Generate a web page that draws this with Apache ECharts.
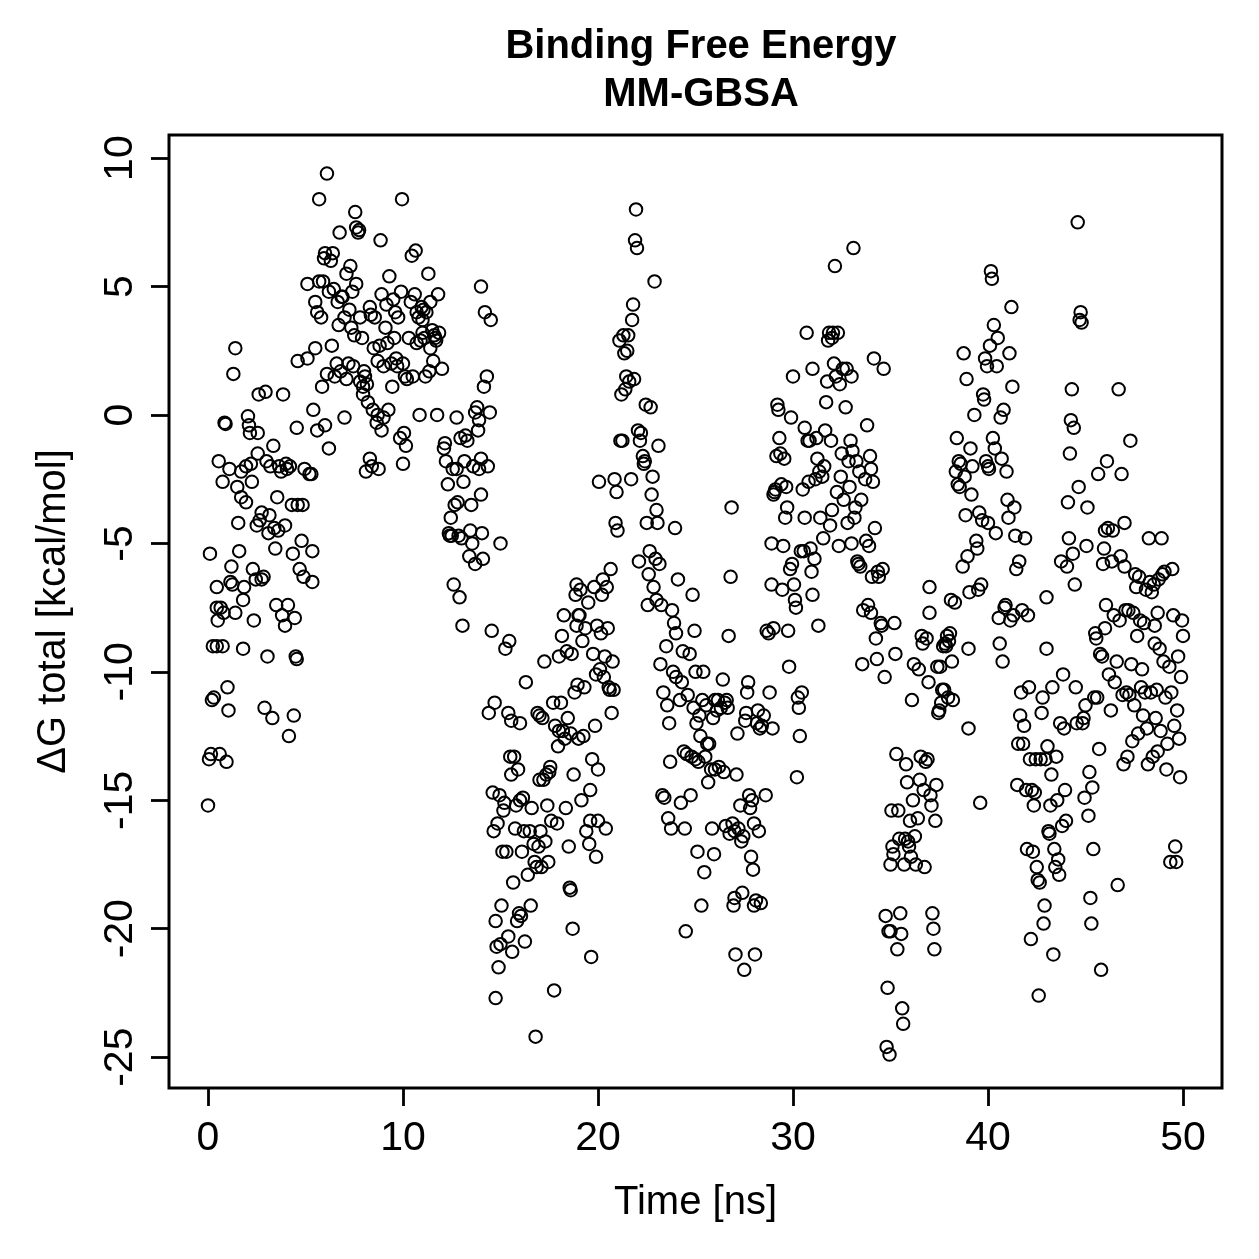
<!DOCTYPE html>
<html>
<head>
<meta charset="utf-8">
<script src="https://cdn.jsdelivr.net/npm/echarts@6/dist/echarts.min.js"></script>
<style>html,body{margin:0;padding:0;background:#fff}#c{width:1259px;height:1259px}</style>
</head>
<body>
<div id="c"></div>
<script>
// [time (ns), ΔG total (kcal/mol)], by 10-ns block
const pts0to10 = [
[0.0,-15.2],[0.05,-13.4],[0.15,-13.2],[0.1,-5.4],[0.2,-11.1],[0.3,-11.0],[0.25,-9.0],[0.45,-9.0],[0.45,-6.7],[0.5,-8.0],[0.45,-7.5],[0.55,-1.8],[0.6,-13.2],[0.65,-7.5],[0.75,-9.0],[0.75,-2.6],[0.8,-7.7],[0.85,-0.3],[0.9,-0.35],[0.95,-13.5],[1.0,-10.6],[1.05,-11.5],
[1.1,-2.1],[1.15,-6.5],[1.2,-5.9],[1.25,-6.6],[1.3,1.6],[1.4,2.6],[1.4,-7.7],[1.5,-2.8],[1.55,-4.2],[1.6,-5.3],[1.7,-2.2],[1.7,-3.2],[1.8,-7.2],[1.8,-9.1],[1.85,-6.7],[1.95,-3.4],[1.95,-2.0],
[2.05,-0.05],[2.1,-0.4],[2.15,-0.7],[2.2,-1.9],[2.25,-2.6],[2.3,-6.0],[2.35,-8.0],[2.45,-6.4],[2.5,-4.3],[2.55,-1.5],[2.55,-0.7],[2.6,0.8],[2.65,-4.1],[2.75,-3.8],[2.75,-6.4],[2.85,-6.3],[2.9,-11.4],[2.95,0.9],[3.0,-1.8],
[3.05,-9.4],[3.1,-4.6],[3.15,-3.9],[3.2,-2.0],[3.3,-11.8],[3.35,-1.2],[3.4,-4.4],[3.45,-5.2],[3.5,-7.4],[3.55,-3.2],[3.6,-4.5],[3.65,-2.0],[3.75,-2.2],[3.8,-7.8],[3.85,0.8],[3.95,-8.2],[3.95,-4.3],[4.0,-1.9],
[4.05,-2.1],[4.1,-7.4],[4.15,-12.5],[4.2,-2.0],[4.3,-3.5],[4.35,-5.4],[4.4,-11.7],[4.45,-7.9],[4.5,-9.4],[4.55,-9.5],[4.55,-0.5],[4.6,-3.5],[4.6,2.1],[4.7,-6.0],[4.8,-4.9],[4.85,-3.5],[4.9,-6.3],[4.95,-2.1],
[5.1,5.1],[5.1,2.2],[5.2,-2.3],[5.3,-2.3],[5.35,-6.5],[5.35,-5.3],[5.4,0.2],[5.5,4.4],[5.5,2.6],[5.6,4.0],[5.6,-0.6],[5.7,5.2],[5.7,8.4],[5.8,3.8],[5.85,1.1],[5.9,5.2],[5.95,6.1],[6.0,6.3],[6.0,-0.4],[6.1,9.4],[6.1,1.6],[6.2,4.8],[6.2,-1.3],[6.3,6.0],[6.35,2.7],[6.4,6.3],[6.45,4.9],
[6.5,1.5],[6.6,2.0],[6.65,4.4],[6.7,3.5],[6.75,7.1],[6.8,1.7],[6.85,4.6],[6.9,4.6],[7.0,-0.1],[7.0,3.8],[7.1,5.5],[7.1,1.4],[7.2,2.0],[7.25,4.1],[7.3,5.8],[7.35,3.4],[7.4,4.8],[7.45,1.9],[7.5,3.1],[7.55,7.9],[7.6,5.1],[7.6,7.3],[7.7,7.1],[7.75,7.2],[7.8,3.8],[7.8,1.3],[7.9,3.0],[7.95,1.1],[7.95,0.8],
[8.0,1.7],[8.05,1.5],[8.1,-2.2],[8.15,1.2],[8.2,0.5],[8.3,-1.7],[8.3,4.2],[8.35,3.9],[8.4,-2.0],[8.45,0.2],[8.5,2.6],[8.55,3.8],[8.65,-0.3],[8.7,2.1],[8.7,0.0],[8.75,-2.1],[8.8,2.7],[8.85,6.8],[8.9,4.7],[8.9,-0.6],[9.0,-0.1],[9.0,1.9],
[9.1,3.4],[9.15,4.3],[9.2,2.8],[9.25,0.2],[9.3,5.4],[9.4,2.0],[9.45,1.1],[9.5,4.5],[9.55,3.0],[9.6,4.0],[9.65,2.2],[9.7,1.9],[9.75,3.8],[9.85,-0.9],[9.9,4.8],[9.95,8.4],[10.0,2.0],[10.0,-1.9]
];
const pts10to20 = [
[10.05,-0.7],[10.1,1.5],[10.15,-1.2],[10.2,1.4],[10.3,3.0],[10.4,4.4],[10.45,6.2],[10.5,1.5],[10.6,4.7],[10.65,6.4],[10.7,4.0],[10.7,2.8],[10.8,3.8],[10.85,0.0],[10.9,2.9],[10.95,4.2],[11.0,3.7],[11.0,3.2],
[11.05,4.1],[11.1,3.0],[11.15,1.5],[11.2,4.0],[11.3,5.5],[11.35,1.7],[11.4,2.6],[11.5,3.3],[11.55,2.1],[11.6,3.1],[11.65,3.0],[11.7,2.9],[11.75,0.0],[11.85,3.2],[12.0,1.8],[11.8,4.7],[11.4,4.4],
[12.1,-1.3],[12.15,-1.1],[12.2,-1.8],[12.3,-2.7],[12.35,-4.6],[12.4,-4.7],[12.45,-4.0],[12.5,-4.7],[12.55,-2.1],[12.6,-6.6],[12.65,-3.5],[12.75,-2.1],[12.75,-0.1],[12.8,-3.4],[12.85,-4.7],[12.9,-7.1],[12.95,-0.9],[13.0,-4.8],
[13.05,-8.2],[13.1,-2.6],[13.15,-1.8],[13.2,-0.8],[13.3,-1.0],[13.4,-5.5],[13.45,-4.5],[13.5,-3.5],[13.55,-5.0],[13.6,-2.0],[13.7,-5.8],[13.7,0.1],[13.8,0.3],[13.85,-0.6],[13.9,-0.2],[13.9,-2.1],[14.0,-3.1],[14.0,-1.7],
[14.0,5.0],[14.05,-4.6],[14.1,-5.6],[14.15,1.1],[14.2,4.0],[14.3,1.5],[14.35,-2.0],[14.4,-11.6],[14.45,0.1],[14.5,3.7],[14.55,-8.4],[14.6,-14.7],[14.65,-16.2],[14.7,-11.2],[14.75,-19.7],[14.75,-22.7],[14.8,-20.7],[14.85,-15.9],[14.9,-21.5],[14.95,-14.8],[15.0,-20.6],[15.0,-5.0],
[15.05,-19.1],[15.1,-17.0],[15.15,-15.4],[15.2,-15.1],[15.25,-9.1],[15.3,-17.0],[15.4,-11.6],[15.4,-20.3],[15.45,-8.8],[15.5,-13.3],[15.55,-11.9],[15.55,-14.0],[15.6,-20.9],[15.65,-18.2],[15.7,-13.3],[15.75,-16.1],[15.8,-15.2],[15.85,-19.7],[15.9,-13.8],[15.95,-19.4],[16.0,-15.0],[16.0,-12.0],
[16.05,-19.5],[16.1,-17.0],[16.15,-14.9],[16.2,-16.2],[16.25,-20.5],[16.3,-10.4],[16.4,-17.9],[16.5,-16.2],[16.55,-19.1],[16.6,-15.3],[16.7,-16.7],[16.75,-17.4],[16.8,-24.2],[16.85,-17.6],[16.9,-11.6],[16.95,-16.8],[17.0,-11.7],[17.0,-14.2],
[17.05,-16.2],[17.1,-17.6],[17.15,-11.8],[17.2,-14.2],[17.25,-9.6],[17.3,-16.6],[17.35,-14.0],[17.4,-15.2],[17.45,-17.4],[17.5,-13.9],[17.55,-13.7],[17.6,-15.8],[17.7,-11.2],[17.75,-22.4],[17.8,-12.1],[17.9,-15.9],[17.95,-12.9],[18.0,-12.3],[18.0,-9.4],
[18.1,-11.2],[18.15,-8.6],[18.2,-12.3],[18.25,-7.8],[18.3,-12.6],[18.35,-15.3],[18.4,-9.2],[18.45,-11.8],[18.5,-16.8],[18.55,-18.4],[18.6,-18.5],[18.6,-12.4],[18.65,-9.3],[18.7,-20.0],[18.75,-14.0],[18.8,-10.8],[18.85,-7.0],[18.9,-8.2],[18.9,-6.6],[18.95,-10.5],[19.0,-12.6],[19.0,-7.8],
[19.05,-7.8],[19.1,-6.8],[19.15,-15.0],[19.2,-8.8],[19.25,-12.5],[19.3,-10.6],[19.35,-8.3],[19.4,-16.2],[19.5,-7.3],[19.55,-16.7],[19.6,-14.6],[19.65,-21.1],[19.7,-13.4],[19.75,-9.3],[19.8,-6.7],[19.85,-12.1],[19.9,-10.1],[19.95,-8.2],[20.0,-15.8],[20.0,-13.8],[19.9,-17.2],[19.6,-15.8]
];
const pts20to30 = [
[20.05,-2.6],[20.1,-9.9],[20.15,-8.5],[20.2,-7.0],[20.25,-6.4],[20.3,-10.2],[20.35,-9.4],[20.4,-16.1],[20.45,-6.7],[20.5,-8.3],[20.55,-10.6],[20.6,-10.7],[20.65,-6.0],[20.7,-11.6],[20.75,-9.6],[20.8,-10.7],[20.85,-2.5],[20.9,-4.2],[20.95,-3.0],[21.0,-4.5],
[21.1,2.9],[21.15,-1.0],[21.2,0.8],[21.25,-1.0],[21.3,3.1],[21.35,2.4],[21.4,1.0],[21.45,1.5],[21.5,2.5],[21.55,3.1],[21.6,1.3],[21.7,-2.5],[21.75,3.7],[21.8,4.3],[21.85,1.4],[21.9,6.8],[21.95,8.0],[22.0,6.5],
[22.05,-0.6],[22.1,-5.7],[22.15,-1.0],[22.2,-0.7],[22.3,-1.6],[22.35,-1.9],[22.4,-1.8],[22.45,0.4],[22.5,-4.2],[22.55,-7.4],[22.6,-6.2],[22.65,-5.3],[22.7,0.3],[22.75,-3.1],[22.8,-2.4],[22.85,-6.7],[22.9,5.2],[22.95,-5.6],[23.0,-7.2],[23.0,-3.7],
[23.05,-4.2],[23.1,-1.2],[23.15,-5.8],[23.2,-9.7],[23.25,-7.4],[23.3,-14.8],[23.35,-10.8],[23.4,-14.9],[23.5,-9.0],[23.55,-11.3],[23.6,-15.7],[23.65,-12.0],[23.7,-13.5],[23.75,-16.1],[23.8,-7.6],[23.85,-10.0],[23.9,-8.1],[23.95,-4.4],[24.0,-10.2],[24.0,-8.5],
[24.1,-6.4],[24.2,-11.1],[24.25,-15.1],[24.3,-10.4],[24.35,-9.2],[24.4,-13.1],[24.45,-16.1],[24.5,-20.1],[24.55,-13.2],[24.6,-10.9],[24.7,-9.3],[24.75,-14.8],[24.8,-13.3],[24.85,-7.0],[24.9,-11.4],[24.95,-8.4],[25.0,-13.4],[25.0,-10.0],
[25.05,-12.0],[25.1,-17.0],[25.15,-13.5],[25.2,-11.7],[25.25,-12.5],[25.3,-19.1],[25.35,-11.1],[25.4,-10.0],[25.45,-17.8],[25.5,-13.3],[25.55,-11.3],[25.6,-12.8],[25.65,-14.3],[25.7,-12.8],[25.8,-13.8],[25.85,-16.1],[25.9,-11.8],[25.95,-17.1],[26.0,-13.8],[26.0,-11.1],
[26.1,-11.5],[26.15,-11.1],[26.2,-13.7],[26.3,-11.4],[26.4,-10.3],[26.45,-13.9],[26.5,-11.2],[26.55,-16.0],[26.6,-11.1],[26.65,-11.4],[26.7,-8.6],[26.75,-16.3],[26.8,-6.3],[26.85,-3.6],[26.9,-15.9],[26.95,-19.1],[27.0,-16.2],[27.0,-18.8],
[27.05,-21.0],[27.1,-14.0],[27.15,-12.4],[27.2,-16.1],[27.3,-15.2],[27.35,-16.6],[27.4,-18.6],[27.45,-16.4],[27.5,-21.6],[27.55,-11.9],[27.6,-11.6],[27.65,-10.8],[27.7,-10.4],[27.75,-14.8],[27.8,-15.3],[27.85,-17.2],[27.9,-15.0],[27.95,-17.7],[28.0,-19.1],[28.0,-15.9],
[28.05,-21.0],[28.1,-18.9],[28.15,-12.0],[28.2,-11.5],[28.25,-16.2],[28.3,-12.2],[28.35,-19.0],[28.4,-12.1],[28.5,-11.7],[28.6,-14.8],[28.65,-8.4],[28.75,-8.5],[28.8,-10.8],[28.9,-6.6],[28.9,-5.0],[29.0,-8.3],[29.0,-3.1],[28.95,-12.2],
[29.05,-3.0],[29.1,-2.9],[29.15,-1.6],[29.2,0.4],[29.25,0.2],[29.3,-0.9],[29.35,-1.5],[29.4,-2.7],[29.45,-6.8],[29.5,-5.1],[29.55,-1.7],[29.6,-4.0],[29.65,-2.8],[29.7,-3.6],[29.75,-8.4],[29.8,-9.8],[29.85,-6.0],[29.9,-0.1],[29.95,-5.8],[30.0,1.5]
];
const pts30to40 = [
[30.05,-6.6],[30.1,-7.2],[30.15,-7.5],[30.2,-14.1],[30.25,-11.0],[30.3,-11.4],[30.35,-12.5],[30.4,-5.3],[30.45,-10.8],[30.5,-2.9],[30.55,-5.3],[30.6,-0.5],[30.6,-4.0],[30.7,3.2],[30.75,-1.0],[30.8,-2.6],[30.85,-1.0],[30.9,-5.2],[30.95,-6.1],[31.0,1.8],[31.0,-7.0],
[31.1,-5.6],[31.15,-2.5],[31.2,-0.9],[31.25,-1.7],[31.3,-8.2],[31.35,-2.2],[31.4,-4.0],[31.5,-2.4],[31.55,-4.8],[31.6,-2.0],[31.65,-0.6],[31.7,0.5],[31.75,1.3],[31.8,2.9],[31.85,3.2],[31.9,-4.3],[31.95,-1.0],[32.0,-3.7],[32.0,3.0],
[32.05,3.2],[32.1,2.0],[32.15,5.8],[32.2,1.5],[32.25,-3.0],[32.3,3.2],[32.35,-5.1],[32.4,1.2],[32.45,-2.4],[32.5,-1.5],[32.55,1.8],[32.6,-3.3],[32.7,0.3],[32.75,1.8],[32.8,-4.2],[32.85,-1.8],[32.9,-2.8],[32.95,-1.0],[33.0,-5.0],[33.0,1.5],
[33.05,-1.4],[33.1,6.5],[33.15,-4.0],[33.2,-3.6],[33.25,-1.8],[33.3,-5.7],[33.35,-5.8],[33.4,-2.2],[33.45,-5.9],[33.5,-3.3],[33.55,-9.7],[33.6,-7.6],[33.7,-2.5],[33.75,-4.9],[33.8,-0.4],[33.85,-7.4],[33.9,-5.1],[33.95,-1.6],[34.0,-2.1],[34.0,-7.7],
[34.05,-6.3],[34.1,-2.6],[34.15,2.2],[34.2,-4.4],[34.25,-8.7],[34.3,-9.5],[34.35,-6.1],[34.4,-6.3],[34.5,-8.1],[34.55,-8.2],[34.6,-6.0],[34.65,1.8],[34.7,-10.2],[34.75,-19.5],[34.8,-24.6],[34.85,-22.3],[34.9,-20.1],[34.95,-24.9],[35.0,-20.1],[35.0,-17.5],
[35.05,-15.4],[35.1,-16.8],[35.15,-17.1],[35.2,-8.1],[35.25,-9.3],[35.3,-13.2],[35.35,-20.8],[35.4,-15.4],[35.45,-16.5],[35.5,-19.4],[35.55,-20.2],[35.6,-23.1],[35.65,-23.7],[35.7,-17.5],[35.75,-16.5],[35.8,-13.6],[35.85,-14.3],[35.9,-16.6],[35.95,-16.8],[36.0,-15.8],
[36.05,-17.2],[36.1,-11.1],[36.15,-15.0],[36.2,-9.7],[36.25,-16.4],[36.3,-17.5],[36.4,-15.7],[36.45,-9.9],[36.5,-14.2],[36.55,-13.3],[36.6,-8.6],[36.65,-8.9],[36.7,-14.6],[36.75,-17.6],[36.8,-13.5],[36.85,-8.7],[36.9,-13.4],[36.95,-10.4],[37.0,-6.7],[37.0,-7.7],
[37.05,-14.8],[37.1,-15.2],[37.15,-19.4],[37.2,-20.0],[37.25,-20.8],[37.3,-15.8],[37.35,-14.4],[37.4,-9.8],[37.45,-11.6],[37.5,-11.5],[37.55,-9.8],[37.6,-11.2],[37.65,-10.7],[37.7,-9.0],[37.75,-10.7],[37.8,-8.9],[37.85,-9.0],[37.9,-8.6],[37.95,-11.0],[38.0,-8.8],
[38.05,-8.5],[38.1,-7.2],[38.15,-9.6],[38.2,-11.1],[38.3,-7.3],[38.35,-2.2],[38.4,-0.9],[38.45,-2.7],[38.5,-1.8],[38.55,-2.8],[38.6,-1.9],[38.7,-5.9],[38.75,2.4],[38.8,-2.4],[38.85,-3.9],[38.9,1.4],[38.95,-5.5],[39.0,-12.2],[39.0,-9.1],
[39.05,-6.9],[39.1,-1.3],[39.15,-3.1],[39.2,-2.0],[39.3,0.0],[39.4,-4.9],[39.45,-5.2],[39.5,-6.8],[39.55,-3.8],[39.6,-15.1],[39.65,-6.6],[39.7,-4.1],[39.75,0.8],[39.8,0.6],[39.85,2.2],[39.9,-1.8],[39.95,1.9],[40.0,-4.2],[40.0,-2.0]
];
const pts40to50 = [
[40.05,-2.1],[40.1,2.7],[40.15,5.6],[40.2,5.3],[40.25,-0.9],[40.3,3.5],[40.35,-1.3],[40.4,-4.6],[40.45,1.9],[40.5,3.0],[40.55,-7.9],[40.6,-8.9],[40.65,-0.1],[40.7,-1.7],[40.75,-9.6],[40.8,0.2],[40.85,-7.5],[40.9,-7.4],[40.95,-2.2],[41.0,-3.3],
[41.05,-4.0],[41.1,2.4],[41.15,-8.0],[41.2,4.2],[41.25,1.1],[41.3,-7.8],[41.35,-3.6],[41.4,-4.7],[41.45,-6.0],[41.5,-14.4],[41.55,-12.8],[41.6,-5.7],[41.65,-11.7],[41.7,-10.8],[41.75,-7.6],[41.8,-12.8],[41.85,-12.1],[41.9,-4.8],[41.95,-14.6],[42.0,-16.9],
[42.05,-7.8],[42.1,-10.6],[42.15,-13.4],[42.2,-20.4],[42.25,-14.6],[42.3,-17.0],[42.35,-15.2],[42.4,-14.7],[42.45,-13.4],[42.5,-17.6],[42.55,-18.1],[42.6,-22.6],[42.65,-18.2],[42.7,-13.4],[42.75,-11.6],[42.8,-11.0],[42.85,-19.8],[42.9,-19.1],[42.95,-13.4],[43.0,-7.1],[43.0,-9.1],
[43.05,-12.9],[43.1,-16.2],[43.15,-16.3],[43.2,-15.2],[43.25,-14.0],[43.3,-10.6],[43.35,-21.0],[43.4,-16.9],[43.45,-17.6],[43.5,-13.3],[43.55,-15.0],[43.6,-17.3],[43.65,-17.9],[43.7,-12.0],[43.75,-5.7],[43.8,-16.0],[43.85,-10.1],[43.9,-12.2],[43.95,-14.6],[44.0,-15.8],
[44.05,-5.9],[44.1,-3.4],[44.15,-4.8],[44.2,-1.5],[44.25,-0.2],[44.3,1.0],[44.35,-5.4],[44.4,-0.5],[44.45,-6.6],[44.5,-10.6],[44.55,-12.0],[44.6,7.5],[44.65,-2.8],[44.7,3.7],[44.75,4.0],[44.8,3.6],[44.85,-12.0],[44.9,-11.8],[44.95,-14.9],[45.0,-11.3],
[45.05,-5.1],[45.1,-3.6],[45.15,-15.6],[45.2,-13.9],[45.25,-18.8],[45.3,-19.8],[45.35,-14.5],[45.4,-16.9],[45.45,-11.0],[45.5,-8.5],[45.55,-8.7],[45.6,-11.0],[45.65,-2.3],[45.7,-13.0],[45.75,-9.3],[45.8,-21.6],[45.85,-9.4],[45.9,-5.8],[45.95,-5.2],[46.0,-4.5],[46.0,-8.3],
[46.05,-7.4],[46.1,-1.8],[46.15,-4.4],[46.2,-10.1],[46.3,-11.5],[46.35,-5.7],[46.4,-4.5],[46.45,-7.8],[46.5,-10.4],[46.6,-9.6],[46.65,-18.3],[46.7,1.0],[46.75,-8.0],[46.8,-5.5],[46.85,-2.3],[46.9,-10.9],[46.95,-13.6],[47.0,-5.9],[47.0,-4.2],
[47.05,-7.6],[47.1,-10.8],[47.15,-13.3],[47.2,-7.6],[47.25,-10.9],[47.3,-1.0],[47.35,-9.7],[47.4,-12.7],[47.45,-7.7],[47.5,-11.3],[47.55,-6.2],[47.6,-6.7],[47.65,-8.6],[47.7,-12.4],[47.75,-6.3],[47.8,-8.0],[47.85,-10.6],[47.9,-9.9],[47.95,-11.7],[48.0,-8.1],
[48.05,-10.8],[48.1,-6.8],[48.15,-12.2],[48.2,-13.6],[48.25,-4.8],[48.3,-6.5],[48.35,-10.8],[48.4,-6.9],[48.45,-13.3],[48.5,-6.6],[48.55,-8.9],[48.55,-8.2],[48.6,-11.8],[48.65,-10.7],[48.7,-13.1],[48.7,-7.7],[48.75,-6.4],[48.8,-9.1],[48.85,-12.3],[48.9,-4.8],[48.95,-6.2],[49.0,-9.6],
[49.05,-6.1],[49.1,-11.0],[49.15,-13.8],[49.2,-12.8],[49.3,-9.8],[49.35,-17.4],[49.4,-10.8],[49.45,-6.0],[49.5,-7.8],[49.55,-12.1],[49.6,-16.8],[49.65,-17.4],[49.7,-11.5],[49.75,-9.4],[49.8,-12.6],[49.85,-14.1],[49.9,-10.2],[49.95,-8.0],[50.0,-8.6]
];
const xTicks = [0, 10, 20, 30, 40, 50];
const yTicks = [-25, -20, -15, -10, -5, 0, 5, 10];

const allPts = [].concat(pts0to10, pts10to20, pts20to30, pts30to40, pts40to50);
const FONT = "'Liberation Sans', Arial, Helvetica, sans-serif";

const chart = echarts.init(document.getElementById('c'), null, {renderer: 'canvas'});
chart.setOption({
  animation: false,
  backgroundColor: '#ffffff',
  title: {
    text: 'Binding Free Energy\nMM-GBSA',
    left: 696, top: 18,
    textAlign: 'center',
    textStyle: {fontFamily: FONT, fontSize: 40, fontWeight: 'bold', color: '#000', lineHeight: 48}
  },
  grid: {
    left: 169, right: 37, top: 135, bottom: 171,
    show: true, borderColor: '#000', borderWidth: 3, backgroundColor: 'transparent'
  },
  xAxis: {
    type: 'value', min: -2, max: 52,
    name: 'Time [ns]', nameLocation: 'middle', nameGap: 95,
    nameTextStyle: {fontFamily: FONT, fontSize: 40, color: '#000'},
    axisLine: {show: false, onZero: false},
    axisTick: {show: true, length: 18, inside: false, customValues: xTicks, lineStyle: {color: '#000', width: 2.8}},
    axisLabel: {customValues: xTicks, margin: 30, fontFamily: FONT, fontSize: 41, color: '#000'},
    splitLine: {show: false}
  },
  yAxis: {
    type: 'value', min: -26.2, max: 10.9,
    name: 'ΔG total [kcal/mol]', nameLocation: 'middle', nameGap: 95,
    nameTextStyle: {fontFamily: FONT, fontSize: 40, color: '#000'},
    axisLine: {show: false, onZero: false},
    axisTick: {show: true, length: 18, inside: false, customValues: yTicks, lineStyle: {color: '#000', width: 2.8}},
    axisLabel: {customValues: yTicks, rotate: 90, margin: 28, fontFamily: FONT, fontSize: 41, color: '#000'},
    splitLine: {show: false}
  },
  series: [{
    type: 'scatter',
    data: allPts,
    symbol: 'circle',
    symbolSize: 12.5,
    itemStyle: {color: 'rgba(0,0,0,0)', borderColor: '#000', borderWidth: 2, opacity: 1},
    emphasis: {disabled: true},
    silent: true
  }]
});
</script>
</body>
</html>
